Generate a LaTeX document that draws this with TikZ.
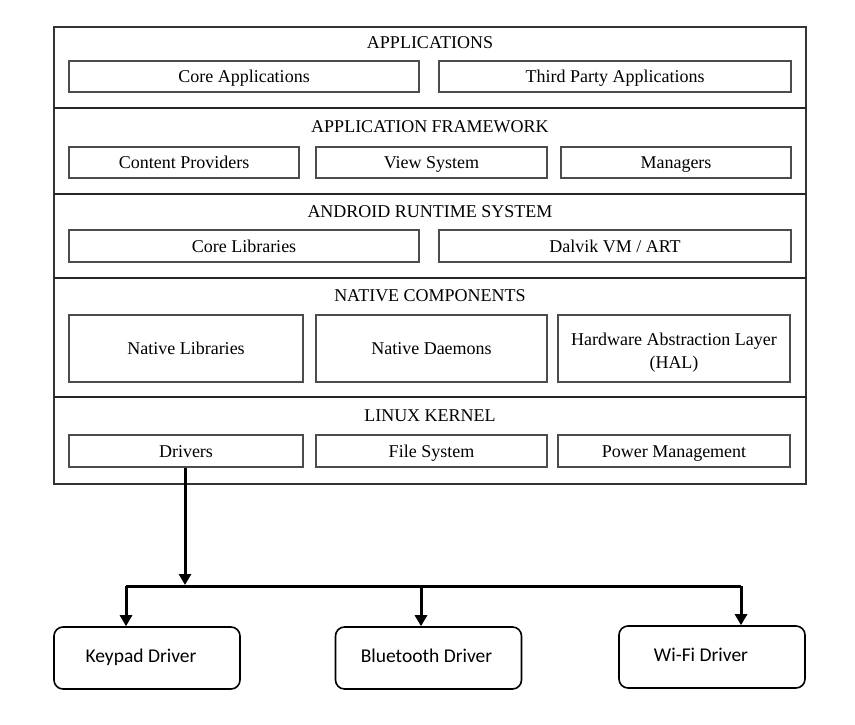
\documentclass[tikz,border=0pt]{standalone}
\usepackage{fontspec}
\setmainfont{Liberation Serif}
\newfontfamily\calibri{Carlito}
\usetikzlibrary{arrows.meta}

\begin{document}
\begin{tikzpicture}[x=1pt,y=-1pt,
    cell/.style={draw=black!70,line width=1.1pt,inner sep=0pt,text height=16pt,text depth=3.5pt,font=\fontsize{18}{23}\selectfont,align=center},
    title/.style={font=\fontsize{18}{20}\selectfont,inner sep=0pt,text height=16pt,text depth=3.5pt},
    driver/.style={draw,rounded corners=9pt,line width=1.6pt,minimum width=186pt,minimum height=62pt,inner sep=0pt,text height=12pt,text depth=4pt,font=\calibri\fontsize{19.5}{22}\selectfont},
    link/.style={line width=3pt,-{Triangle[length=11pt,width=12pt]}}]
  \useasboundingbox (0,0) rectangle (855,725);
  % android stack
  \draw[black!80,line width=1.4pt] (54,27) rectangle (806,484);
  \foreach \y in {108,194,278,397}
    \draw[black!85,line width=2pt] (54,\y) -- (806,\y);
  \node[title] (tapp) at (430,42) {APPLICATIONS};
  \node[title] (tfw) at (430,126) {APPLICATION FRAMEWORK};
  \node[title] (trt) at (430,211) {ANDROID RUNTIME SYSTEM};
  \node[title] (tnat) at (430,295) {NATIVE COMPONENTS};
  \node[title] (tker) at (430,415) {LINUX KERNEL};
  % applications
  \node[cell,minimum width=350pt,minimum height=31pt] (core) at (244,76.5) {Core Applications};
  \node[cell,minimum width=352pt,minimum height=31pt] (third) at (615,76.5) {Third Party Applications};
  % framework
  \node[cell,minimum width=230pt,minimum height=31pt] (cprov) at (184,162.5) {Content Providers};
  \node[cell,minimum width=231pt,minimum height=31pt] (view) at (431.5,162.5) {View System};
  \node[cell,minimum width=230pt,minimum height=31pt] (mgr) at (676,162.5) {Managers};
  % runtime
  \node[cell,minimum width=350pt,minimum height=32pt] (corelib) at (244,246) {Core Libraries};
  \node[cell,minimum width=352pt,minimum height=32pt] (dalvik) at (615,246) {Dalvik VM / ART};
  % native
  \node[cell,minimum width=234pt,minimum height=67pt] (natlib) at (186,348.5) {Native Libraries};
  \node[cell,minimum width=231pt,minimum height=67pt] (natd) at (431.5,348.5) {Native Daemons};
  \node[cell,minimum width=232pt,minimum height=67pt,text height=39pt,text depth=0pt] (hal) at (674,348.5) {Hardware Abstraction Layer\\(HAL)};
  % kernel
  \node[cell,minimum width=234pt,minimum height=32pt] (drv) at (186,451) {Drivers};
  \node[cell,minimum width=231pt,minimum height=32pt] (fs) at (431.5,451) {File System};
  \node[cell,minimum width=232pt,minimum height=32pt] (pm) at (674,451) {Power Management};
  % drivers
  \node[driver] (keypad) at (147,658) {\hspace*{-12pt}Keypad Driver};
  \node[driver] (bt) at (428.5,658) {\hspace*{-4pt}Bluetooth Driver};
  \node[driver] (wifi) at (712,657) {\hspace*{-22pt}Wi-Fi Driver};
  \coordinate (busL) at (126,586);
  \coordinate (busM) at (421,586);
  \coordinate (busR) at (741,586);
  \draw[link] (drv.south -| 185,0) -- (185,585);
  \draw[line width=3pt] (busL) -- (busR);
  \draw[link] (busL) -- (keypad.north -| busL);
  \draw[link] (busM) -- (bt.north -| busM);
  \draw[link] (busR) -- (wifi.north -| busR);
\end{tikzpicture}
\end{document}
